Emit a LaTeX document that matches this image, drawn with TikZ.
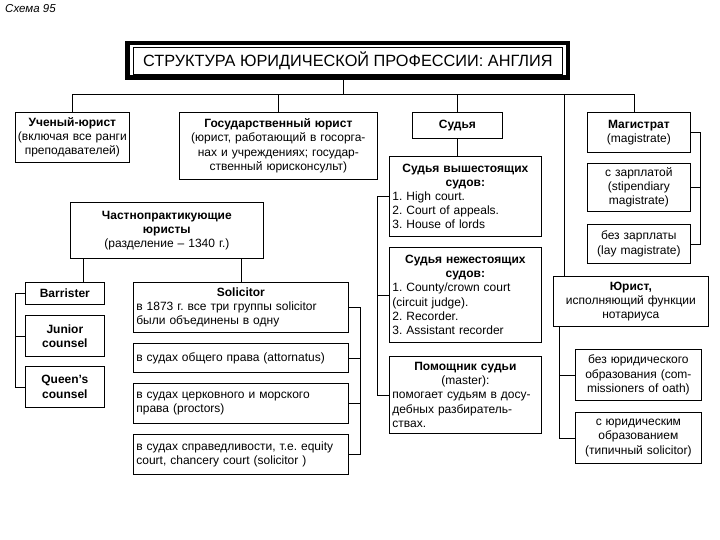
\documentclass[tikz,border=0pt]{standalone}
\usepackage{fontspec}
\setmainfont{Liberation Sans}
\frenchspacing
\tikzset{
  box/.style={draw, line width=0.7pt, anchor=north west, inner xsep=3pt, inner ysep=2pt, font=\fontsize{12}{14.2}\selectfont},
  link/.style={line width=0.7pt},
}
\begin{document}
\begin{tikzpicture}[x=1pt,y=-1pt]
\fill[white] (0,0) rectangle (720,540);
\useasboundingbox (0,0) rectangle (720,540);
\node[anchor=north west, inner sep=0pt, font=\fontsize{11.5}{13}\selectfont\itshape] (scheme) at (5,4) {Схема 95};
\node[draw, line width=0.7pt, anchor=north west, minimum width=429pt, minimum height=27pt, font=\fontsize{16.3}{18}\selectfont] (title) at (133,47) {СТРУКТУРА ЮРИДИЧЕСКОЙ ПРОФЕССИИ: АНГЛИЯ};
\draw[line width=4.5pt] ([shift={(-5.5,-4)}]title.north west) rectangle ([shift={(5.5,3)}]title.south east);
\coordinate (bus) at (343,94);
\coordinate (notary) at (564,94);
\node[box, inner xsep=0.5pt, minimum width=114pt, minimum height=50pt, text width=113pt, align=center] (uchen) at (15,112) {\textbf{Ученый-юрист}\\(включая все ранги\\преподавателей)};
\node[box, minimum width=198pt, minimum height=67pt, text width=192pt, align=center] (gos) at (179,112) {\textbf{Государственный юрист}\\(юрист, работающий в госорга-\\нах и учреждениях; государ-\\ственный юрисконсульт)};
\node[box, minimum width=193pt, minimum height=56pt, text width=187pt, align=center] (chast) at (70,202) {\textbf{Частнопрактикующие}\\\textbf{юристы}\\(разделение – 1340 г.)};
\node[box, minimum width=79pt, minimum height=22pt, text width=73pt, align=center] (barr) at (25,282) {\textbf{Barrister}};
\node[box, minimum width=79pt, minimum height=41pt, text width=73pt, align=center] (junior) at (25,315) {\textbf{Junior}\\\textbf{counsel}};
\node[box, minimum width=79pt, minimum height=41pt, text width=73pt, align=center] (queen) at (25,366) {\textbf{Queen’s}\\\textbf{counsel}};
\node[box, minimum width=215pt, minimum height=50pt, text width=209pt, align=left] (solic) at (133,282) {{\centering\textbf{Solicitor}\par}в 1873 г. все три группы solicitor\\были объединены в одну};
\node[box, minimum width=215pt, minimum height=29pt, text width=209pt, align=left] (attorn) at (133,343) {в судах общего права (attornatus)};
\node[box, minimum width=215pt, minimum height=40pt, text width=209pt, align=left] (proct) at (133,383) {в судах церковного и морского\\права (proctors)};
\node[box, minimum width=215pt, minimum height=40pt, text width=209pt, align=left] (equity) at (133,434) {в судах справедливости, т.е. equity\\court, chancery court (solicitor )};
\node[box, minimum width=90pt, minimum height=26pt, text width=84pt, align=center] (sudya) at (412,112) {\textbf{Судья}};
\node[box, minimum width=152pt, minimum height=80pt, text width=146pt, align=left] (vysh) at (389,156) {{\centering\textbf{Судья вышестоящих}\\\textbf{судов:}\par}1. High court.\\2. Court of appeals.\\3. House of lords};
\node[box, minimum width=152pt, minimum height=95pt, text width=146pt, align=left] (nizh) at (389,247) {{\centering\textbf{Судья нежестоящих}\\\textbf{судов:}\par}1. County/crown court\\(circuit judge).\\2. Recorder.\\3. Assistant recorder};
\node[box, minimum width=152pt, minimum height=77pt, text width=146pt, align=left] (pomosh) at (389,356) {{\centering\textbf{Помощник судьи}\\(master):\par}помогает судьям в досу-\\дебных разбиратель-\\ствах.};
\node[box, minimum width=103pt, minimum height=40pt, text width=97pt, align=center] (mag) at (587,112) {\textbf{Магистрат}\\(magistrate)};
\node[box, minimum width=103pt, minimum height=48pt, text width=97pt, align=center] (zarpl) at (587,163) {с зарплатой\\(stipendiary\\magistrate)};
\node[box, minimum width=103pt, minimum height=39pt, text width=97pt, align=center] (bezz) at (587,224) {без зарплаты\\(lay magistrate)};
\node[box, minimum width=155pt, minimum height=50pt, text width=149pt, align=center] (yurist) at (553,276) {\textbf{Юрист,}\\исполняющий функции\\нотариуса};
\node[box, minimum width=126pt, minimum height=51pt, text width=120pt, align=center] (bezyur) at (575,349) {без юридического\\образования (com-\\missioners of oath)};
\node[box, minimum width=126pt, minimum height=51pt, text width=120pt, align=center] (syur) at (575,412) {с юридическим\\образованием\\(типичный solicitor)};
\draw[link] (bus) -- (bus |- title.south);
\draw[link] (uchen.north) -- (uchen.north |- bus) -- ([xshift=-5pt]mag.north |- bus) -- ([xshift=-5pt]mag.north);
\draw[link] (gos.north) -- (gos.north |- bus);
\draw[link] (sudya.north) -- (sudya.north |- bus);
\draw[link] (notary) -- (notary |- yurist.north);
\draw[link] (sudya.south) -- (sudya.south |- vysh.north);
\draw[link] ([xshift=13pt]chast.south west) -- ([xshift=13pt]chast.south west |- barr.north);
\draw[link] (solic.north) -- (solic.north |- chast.south);
\draw[link] (barr.west) -- ++(-10,0) |- (queen.west);
\draw[link] (junior.west) -- ++(-10,0);
\draw[link] (solic.east) -- ++(12,0) |- (equity.east);
\draw[link] (attorn.east) -- ++(12,0);
\draw[link] (proct.east) -- ++(12,0);
\draw[link] (vysh.west) -- ++(-12,0) |- (pomosh.west);
\draw[link] (nizh.west) -- ++(-12,0);
\draw[link] (mag.east) -- ++(10,0) |- (bezz.east);
\draw[link] (zarpl.east) -- ++(10,0);
\draw[link] ([xshift=6pt]yurist.south west) |- (syur.west);
\draw[link] (bezyur.west) -- ++(-16,0);
\end{tikzpicture}
\end{document}
